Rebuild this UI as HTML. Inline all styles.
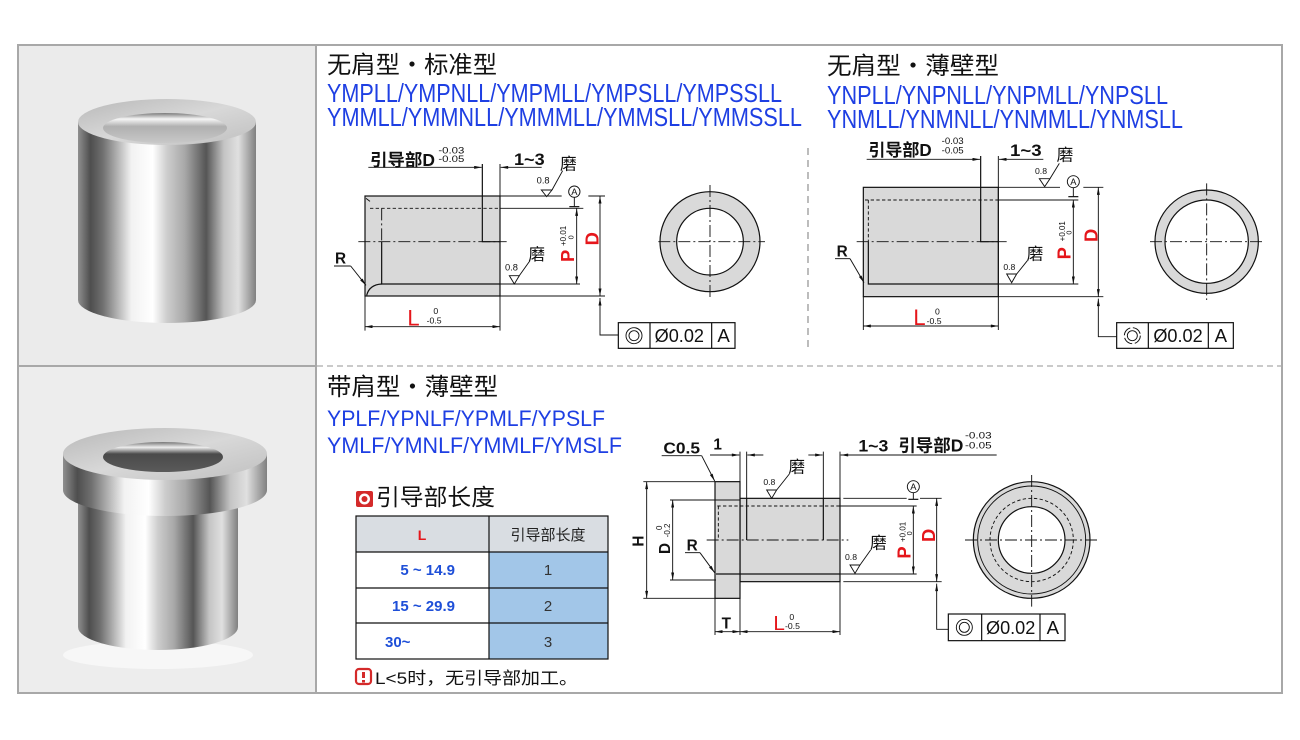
<!DOCTYPE html>
<html><head><meta charset="utf-8">
<style>
html,body{margin:0;padding:0;background:#fff;}
svg{display:block}
</style></head><body>
<svg width="1300" height="740" viewBox="0 0 1300 740" xmlns="http://www.w3.org/2000/svg" font-family="'Liberation Sans','Noto Sans CJK SC',sans-serif">
<defs>
<style>
.ln{stroke:#111;stroke-width:3.6;fill:none}
.th{stroke:#111;stroke-width:2.8;fill:none}
.ds{stroke:#111;stroke-width:2.8;fill:none;stroke-dasharray:10 7}
.cl{stroke:#111;stroke-width:2.8;fill:none;stroke-dasharray:36 9 6 9}
.dim{stroke:#111;stroke-width:2.8;fill:none;marker-start:url(#ar);marker-end:url(#ar)}
.ld{stroke:#111;stroke-width:2.8;fill:none;marker-end:url(#ar)}
.tx{fill:#111;stroke:none}
.bt{fill:#111;stroke:none;font-weight:bold}
.rd{fill:#e5161b;stroke:none;font-weight:bold}
</style>
<marker id="ar" viewBox="0 0 10 4" markerWidth="24" markerHeight="9" refX="10" refY="2" orient="auto-start-reverse" markerUnits="userSpaceOnUse"><path d="M0,0 L10,2 L0,4 z" fill="#111"/></marker>
<linearGradient id="metal" x1="0" x2="1" y1="0" y2="0">
<stop offset="0" stop-color="#8f8f8f"/>
<stop offset="0.07" stop-color="#4e4e4e"/>
<stop offset="0.14" stop-color="#707070"/>
<stop offset="0.3" stop-color="#f2f2f2"/>
<stop offset="0.42" stop-color="#ffffff"/>
<stop offset="0.5" stop-color="#cdcdcd"/>
<stop offset="0.6" stop-color="#a8a8a8"/>
<stop offset="0.72" stop-color="#555555"/>
<stop offset="0.82" stop-color="#c4c4c4"/>
<stop offset="0.9" stop-color="#e0e0e0"/>
<stop offset="1" stop-color="#808080"/>
</linearGradient>
<linearGradient id="face" x1="0" x2="1" y1="0" y2="1">
<stop offset="0" stop-color="#b8b8b8"/>
<stop offset="0.5" stop-color="#d8d8d8"/>
<stop offset="1" stop-color="#c0c0c0"/>
</linearGradient>
<linearGradient id="hole1" x1="0" x2="0" y1="0" y2="1">
<stop offset="0" stop-color="#7a7a7a"/>
<stop offset="0.2" stop-color="#f6f6f6"/>
<stop offset="0.45" stop-color="#b0b0b0"/>
<stop offset="1" stop-color="#c8c8c8"/>
</linearGradient>
<linearGradient id="hole2" x1="0" x2="0" y1="0" y2="1">
<stop offset="0" stop-color="#777"/>
<stop offset="0.18" stop-color="#eeeeee"/>
<stop offset="0.4" stop-color="#4a4a4a"/>
<stop offset="1" stop-color="#5a5a5a"/>
</linearGradient>
</defs>

<!-- photo cells -->
<rect x="19" y="46" width="297" height="320" fill="#ebebeb"/>
<rect x="19" y="367" width="297" height="325" fill="#ededed"/>

<!-- photo 1 -->
<path d="M78,122 V300 A89,23 0 0 0 256,300 V122 Z" fill="url(#metal)"/>
<ellipse cx="167" cy="122" rx="89" ry="23" fill="url(#face)"/>
<ellipse cx="165" cy="128" rx="62" ry="15" fill="url(#hole1)"/>

<!-- photo 2 -->
<ellipse cx="158" cy="655" rx="95" ry="14" fill="#f7f7f7"/>
<path d="M78,500 V627 A80,23 0 0 0 238,627 V500 Z" fill="url(#metal)"/>
<path d="M63,454 V490 A102,26 0 0 0 267,490 V454 Z" fill="url(#metal)"/>
<ellipse cx="165" cy="454" rx="102" ry="26" fill="url(#face)"/>
<ellipse cx="163" cy="457" rx="60" ry="15" fill="url(#hole2)"/>

<!-- frame -->
<rect x="18" y="45" width="1264" height="648" fill="none" stroke="#a8a8a8" stroke-width="2"/>
<line x1="316" y1="45" x2="316" y2="693" stroke="#a8a8a8" stroke-width="2"/>
<line x1="18" y1="366" x2="316" y2="366" stroke="#a8a8a8" stroke-width="2"/>
<line x1="317" y1="366" x2="1282" y2="366" stroke="#aaa" stroke-width="1.3" stroke-dasharray="6 4"/>
<line x1="808" y1="148" x2="808" y2="352" stroke="#999" stroke-width="1.3" stroke-dasharray="7 5"/>

<!-- headings -->
<text x="327" y="73" font-size="24" fill="#111" textLength="170" lengthAdjust="spacingAndGlyphs">无肩型・标准型</text>
<text x="327" y="102" font-size="26" fill="#1e3fe3" textLength="455" lengthAdjust="spacingAndGlyphs">YMPLL/YMPNLL/YMPMLL/YMPSLL/YMPSSLL</text>
<text x="327" y="126" font-size="26" fill="#1e3fe3" textLength="475" lengthAdjust="spacingAndGlyphs">YMMLL/YMMNLL/YMMMLL/YMMSLL/YMMSSLL</text>

<text x="827" y="74" font-size="24" fill="#111" textLength="172" lengthAdjust="spacingAndGlyphs">无肩型・薄壁型</text>
<text x="827" y="104" font-size="26" fill="#1e3fe3" textLength="341" lengthAdjust="spacingAndGlyphs">YNPLL/YNPNLL/YNPMLL/YNPSLL</text>
<text x="827" y="128" font-size="26" fill="#1e3fe3" textLength="356" lengthAdjust="spacingAndGlyphs">YNMLL/YNMNLL/YNMMLL/YNMSLL</text>

<text x="327" y="395" font-size="24" fill="#111" textLength="171" lengthAdjust="spacingAndGlyphs">带肩型・薄壁型</text>
<text x="327" y="426" font-size="22" fill="#1e3fe3" textLength="278" lengthAdjust="spacingAndGlyphs">YPLF/YPNLF/YPMLF/YPSLF</text>
<text x="327" y="453" font-size="22" fill="#1e3fe3" textLength="295" lengthAdjust="spacingAndGlyphs">YMLF/YMNLF/YMMLF/YMSLF</text>

<!-- lead length section -->
<rect x="356" y="491" width="17" height="16" rx="2" fill="#d42a2a"/>
<circle cx="364.5" cy="499" r="5.5" fill="#fff"/>
<circle cx="364.5" cy="499" r="3" fill="#d42a2a"/>
<text x="376" y="505" font-size="23" fill="#111" textLength="119" lengthAdjust="spacingAndGlyphs">引导部长度</text>

<rect x="356" y="516" width="252" height="36" fill="#d9dde2"/>
<rect x="489" y="552" width="119" height="107" fill="#a2c6e8"/>
<rect x="356" y="516" width="252" height="143" fill="none" stroke="#111" stroke-width="1.2"/>
<path d="M356,552 H608 M356,588 H608 M356,623 H608 M489,516 V659" stroke="#111" stroke-width="1.2" fill="none"/>
<text x="422" y="540" font-size="14" fill="#e5161b" font-weight="bold" text-anchor="middle">L</text>
<text x="548" y="540" font-size="15" fill="#222" text-anchor="middle">引导部长度</text>
<text x="455" y="575" font-size="15" fill="#1e4fd8" font-weight="bold" text-anchor="end">5 ~ 14.9</text>
<text x="455" y="611" font-size="15" fill="#1e4fd8" font-weight="bold" text-anchor="end">15 ~ 29.9</text>
<text x="385" y="647" font-size="15" fill="#1e4fd8" font-weight="bold">30~</text>
<text x="548" y="575" font-size="15" fill="#333" text-anchor="middle">1</text>
<text x="548" y="611" font-size="15" fill="#333" text-anchor="middle">2</text>
<text x="548" y="647" font-size="15" fill="#333" text-anchor="middle">3</text>

<rect x="356" y="669" width="15" height="15" rx="3" fill="#fff" stroke="#d42a2a" stroke-width="2.2"/>
<rect x="362" y="672" width="3" height="6" fill="#d42a2a"/>
<rect x="362" y="680" width="3" height="2.5" fill="#d42a2a"/>
<text x="375" y="684" font-size="17" fill="#111" textLength="203" lengthAdjust="spacingAndGlyphs">L&lt;5时，无引导部加工。</text>

<!-- Diagram 1 -->
<g transform="translate(320,140) scale(0.333333)">
<rect x="135" y="168" width="405" height="300" class="ln" style="fill:#d9d9d9"/>
<path class="ds" d="M150,205 H540"/>
<path class="th" d="M540,205 H790"/>
<path class="cl" d="M185,205 V305"/>
<path class="ln" d="M185,305 V432 H540"/>
<path class="th" d="M540,432 H780"/>
<path class="ln" d="M140,466 Q148,434 185,432"/>
<path class="th" d="M138,175 L150,184"/>
<path class="cl" d="M115,305 H560"/>
<path class="ln" d="M487,72 V305 H540"/>
<path class="th" d="M540,72 V572 M135,468 V572"/>
<path class="th" d="M540,168 H725 M805,168 H855 M540,468 H855"/>
<path class="dim" d="M840,168 V468"/>
<path class="ld" d="M900,585 H840 V474"/>
<path class="dim" d="M770,205 V432"/>
<circle cx="763" cy="155" r="17" class="th"/>
<text x="763" y="165" font-size="28" text-anchor="middle" class="tx">A</text>
<path class="th" d="M763,172 V200"/><path class="ln" d="M748,200 H778"/>
<path class="dim" d="M135,560 H540"/>
<text x="45" y="370" font-size="46" class="bt">R</text>
<path class="th" d="M42,378 H92"/><path class="ld" d="M92,378 L138,436"/>
<text x="720" y="88" font-size="50" class="tx">磨</text>
<text x="650" y="130" font-size="28" class="tx">0.8</text>
<path class="th" d="M664,150 H696 L680,170 Z M696,150 L728,92"/>
<text x="625" y="360" font-size="50" class="tx">磨</text>
<text x="555" y="392" font-size="28" class="tx">0.8</text>
<path class="th" d="M568,407 H598 L583,432 Z M598,407 L630,362"/>
<text x="150" y="78" font-size="52" class="bt" textLength="195" lengthAdjust="spacingAndGlyphs">引导部D</text>
<text x="355" y="40" font-size="28" class="tx" textLength="78" lengthAdjust="spacingAndGlyphs">-0.03</text>
<text x="355" y="66" font-size="28" class="tx" textLength="78" lengthAdjust="spacingAndGlyphs">-0.05</text>
<path class="ld" d="M145,82 H485"/>
<text x="582" y="75" font-size="50" class="bt" textLength="92" lengthAdjust="spacingAndGlyphs">1~3</text>
<path class="ld" d="M665,82 H542"/>
<text transform="translate(762,366) rotate(-90)" font-size="55" class="rd">P</text>
<text transform="translate(738,318) rotate(-90)" font-size="24" class="tx">+0.01</text>
<text transform="translate(760,298) rotate(-90)" font-size="22" class="tx">0</text>
<text transform="translate(835,316) rotate(-90)" font-size="55" class="rd">D</text>
<text x="262" y="556" font-size="66" class="rd" style="font-weight:normal">L</text>
<text x="340" y="522" font-size="26" class="tx">0</text>
<text x="320" y="550" font-size="26" class="tx">-0.5</text>
<rect x="895" y="548" width="350" height="77" class="ln" style="fill:#fff"/>
<path class="ln" d="M990,548 V625 M1175,548 V625"/>
<circle cx="942" cy="587" r="24" class="th"/><circle cx="942" cy="587" r="15" class="th"/>
<text x="1004" y="606" font-size="56" class="tx" textLength="148" lengthAdjust="spacingAndGlyphs">Ø0.02</text>
<text x="1192" y="606" font-size="56" class="tx">A</text>
<circle cx="1170" cy="305" r="150" class="ln" style="fill:#d9d9d9"/>
<circle cx="1170" cy="305" r="100" class="ln" style="fill:#fff"/>
<path class="cl" d="M1015,305 H1335 M1170,135 V475"/>
</g>

<!-- Diagram 2 -->
<g transform="translate(810,130) scale(0.333333)">
<rect x="160" y="172" width="405" height="328" class="ln" style="fill:#d9d9d9"/>
<path class="ds" d="M165,210 H565"/>
<path class="th" d="M565,210 H805"/>
<path class="ds" d="M175,210 V335"/>
<path class="ln" d="M175,335 V462 H565"/>
<path class="th" d="M565,462 H805"/>
<path class="cl" d="M140,335 H590"/>
<path class="ln" d="M512,78 V335 H565"/>
<path class="th" d="M565,78 V600 M160,500 V600"/>
<path class="th" d="M565,172 H750 M820,172 H880 M565,500 H880"/>
<path class="dim" d="M865,172 V500"/>
<path class="ld" d="M920,620 H865 V506"/>
<path class="dim" d="M790,210 V462"/>
<circle cx="790" cy="155" r="18" class="th"/>
<text x="790" y="165" font-size="28" text-anchor="middle" class="tx">A</text>
<path class="th" d="M790,173 V200"/><path class="ln" d="M775,200 H805"/>
<path class="dim" d="M160,588 H565"/>
<text x="80" y="380" font-size="46" class="bt">R</text>
<path class="th" d="M75,386 H120"/><path class="ld" d="M120,386 L162,458"/>
<text x="740" y="92" font-size="50" class="tx">磨</text>
<text x="675" y="132" font-size="26" class="tx">0.8</text>
<path class="th" d="M688,146 H720 L704,170 Z M720,146 L748,100"/>
<text x="650" y="388" font-size="50" class="tx">磨</text>
<text x="580" y="420" font-size="26" class="tx">0.8</text>
<path class="th" d="M590,432 H620 L605,458 Z M620,432 L652,392"/>
<text x="175" y="78" font-size="52" class="bt" textLength="190" lengthAdjust="spacingAndGlyphs">引导部D</text>
<text x="395" y="42" font-size="28" class="tx" textLength="66" lengthAdjust="spacingAndGlyphs">-0.03</text>
<text x="395" y="70" font-size="28" class="tx" textLength="66" lengthAdjust="spacingAndGlyphs">-0.05</text>
<path class="ld" d="M170,88 H510"/>
<text x="600" y="78" font-size="50" class="bt" textLength="95" lengthAdjust="spacingAndGlyphs">1~3</text>
<path class="ld" d="M700,88 H567"/>
<text transform="translate(782,388) rotate(-90)" font-size="55" class="rd">P</text>
<text transform="translate(765,334) rotate(-90)" font-size="24" class="tx">+0.01</text>
<text transform="translate(785,314) rotate(-90)" font-size="22" class="tx">0</text>
<text transform="translate(862,336) rotate(-90)" font-size="55" class="rd">D</text>
<text x="310" y="585" font-size="66" class="rd" style="font-weight:normal">L</text>
<text x="375" y="553" font-size="26" class="tx">0</text>
<text x="350" y="582" font-size="26" class="tx">-0.5</text>
<rect x="920" y="578" width="350" height="77" class="ln" style="fill:#fff"/>
<path class="ln" d="M1015,578 V655 M1195,578 V655"/>
<circle cx="967" cy="617" r="24" class="th" style="stroke-dasharray:30 8"/><circle cx="967" cy="617" r="15" class="th"/>
<text x="1030" y="636" font-size="56" class="tx" textLength="148" lengthAdjust="spacingAndGlyphs">Ø0.02</text>
<text x="1214" y="636" font-size="56" class="tx">A</text>
<circle cx="1190" cy="335" r="155" class="ln" style="fill:#d9d9d9"/>
<circle cx="1190" cy="335" r="125" class="ln" style="fill:#fff"/>
<path class="cl" d="M1020,335 H1365 M1190,160 V510"/>
</g>

<!-- Diagram 3 -->
<g transform="translate(630,420) scale(0.333333)">
<rect x="330" y="235" width="300" height="250" class="ln" style="fill:#d9d9d9"/>
<rect x="255" y="185" width="75" height="350" class="ln" style="fill:#d9d9d9"/>
<path class="ds" d="M262,258 H630"/>
<path class="th" d="M630,258 H860"/>
<path class="ds" d="M265,258 V360"/>
<path class="th" d="M350,95 V235 M580,95 V235"/>
<path class="ln" d="M350,235 V360 M580,235 V360"/>
<path class="th" d="M630,95 V645 M330,95 V185 M330,535 V645 M255,535 V645"/>
<path class="cl" d="M230,360 H655"/>
<path class="ln" d="M258,462 H630"/>
<path class="th" d="M630,462 H860"/>
<path class="th" d="M640,235 H830 M870,235 H935 M640,485 H935"/>
<path class="dim" d="M920,235 V485"/>
<path class="ld" d="M955,628 H920 V491"/>
<path class="dim" d="M850,258 V462"/>
<circle cx="850" cy="200" r="18" class="th"/>
<text x="850" y="210" font-size="28" text-anchor="middle" class="tx">A</text>
<path class="th" d="M850,218 V238"/><path class="ln" d="M835,238 H865"/>
<path class="th" d="M40,185 H255 M40,535 H255"/>
<path class="dim" d="M50,185 V535"/>
<path class="th" d="M120,240 H330 M120,480 H258"/>
<path class="dim" d="M128,240 V480"/>
<text transform="translate(40,380) rotate(-90)" font-size="46" class="bt">H</text>
<text transform="translate(120,402) rotate(-90)" font-size="46" class="bt">D</text>
<text transform="translate(96,330) rotate(-90)" font-size="24" class="tx">0</text>
<text transform="translate(120,352) rotate(-90)" font-size="24" class="tx">-0.2</text>
<text x="100" y="100" font-size="46" class="bt" textLength="110" lengthAdjust="spacingAndGlyphs">C0.5</text>
<path class="th" d="M95,107 H215"/><path class="ld" d="M215,107 L254,183"/>
<text x="250" y="88" font-size="46" class="bt">1</text>
<path class="ld" d="M240,105 H328"/>
<path class="ld" d="M400,105 H352"/>
<text x="685" y="95" font-size="50" class="bt" textLength="90" lengthAdjust="spacingAndGlyphs">1~3</text>
<text x="805" y="95" font-size="52" class="bt" textLength="195" lengthAdjust="spacingAndGlyphs">引导部D</text>
<text x="1005" y="55" font-size="28" class="tx" textLength="80" lengthAdjust="spacingAndGlyphs">-0.03</text>
<text x="1005" y="85" font-size="28" class="tx" textLength="80" lengthAdjust="spacingAndGlyphs">-0.05</text>
<path class="ld" d="M1100,105 H632"/>
<path class="ld" d="M535,105 H578"/>
<text x="475" y="158" font-size="50" class="tx">磨</text>
<text x="400" y="195" font-size="26" class="tx">0.8</text>
<path class="th" d="M410,210 H440 L425,235 Z M440,210 L478,162"/>
<text x="720" y="385" font-size="50" class="tx">磨</text>
<text x="645" y="420" font-size="26" class="tx">0.8</text>
<path class="th" d="M660,435 H690 L675,460 Z M690,435 L722,390"/>
<text transform="translate(842,416) rotate(-90)" font-size="55" class="rd">P</text>
<text transform="translate(826,366) rotate(-90)" font-size="24" class="tx">+0.01</text>
<text transform="translate(846,346) rotate(-90)" font-size="22" class="tx">0</text>
<text transform="translate(915,366) rotate(-90)" font-size="55" class="rd">D</text>
<text x="275" y="625" font-size="46" class="bt">T</text>
<path class="dim" d="M255,635 H330"/>
<path class="dim" d="M330,635 H630"/>
<text x="430" y="630" font-size="62" class="rd" style="font-weight:normal">L</text>
<text x="478" y="600" font-size="26" class="tx">0</text>
<text x="465" y="627" font-size="26" class="tx">-0.5</text>
<rect x="955" y="582" width="350" height="80" class="ln" style="fill:#fff"/>
<path class="ln" d="M1055,582 V662 M1230,582 V662"/>
<circle cx="1003" cy="622" r="24" class="th"/><circle cx="1003" cy="622" r="15" class="th"/>
<text x="1068" y="642" font-size="56" class="tx" textLength="148" lengthAdjust="spacingAndGlyphs">Ø0.02</text>
<text x="1250" y="642" font-size="56" class="tx">A</text>
<circle cx="1205" cy="360" r="175" class="ln" style="fill:#d9d9d9"/>
<circle cx="1205" cy="360" r="162" class="th"/>
<circle cx="1205" cy="360" r="125" class="ds"/>
<circle cx="1205" cy="360" r="100" class="ln" style="fill:#fff"/>
<path class="cl" d="M1005,360 H1410 M1205,165 V560"/>
<text x="170" y="392" font-size="46" class="bt">R</text>
<path class="th" d="M165,398 H210"/><path class="ld" d="M210,398 L254,458"/>
</g>
</svg>
</body></html>
